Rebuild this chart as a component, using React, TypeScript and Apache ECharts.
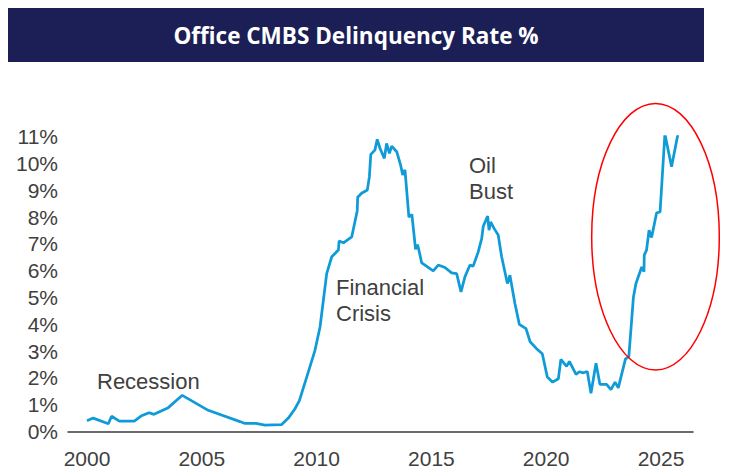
import React, { useEffect, useRef } from "react";
import * as echarts from "echarts";

const years = [
  2000.0, 2000.27, 2000.93, 2001.07, 2001.41, 2002.06, 2002.38, 2002.7, 2002.92, 2003.54,
  2004.15, 2005.28, 2006.66, 2006.88, 2007.36, 2007.75, 2008.48, 2008.77, 2009.06, 2009.25,
  2009.57, 2009.93, 2010.15, 2010.44, 2010.66, 2010.95, 2010.98, 2011.17, 2011.53, 2011.77,
  2011.79, 2011.96, 2012.21, 2012.3, 2012.36, 2012.54, 2012.64, 2012.76, 2012.95, 2013.05,
  2013.17, 2013.27, 2013.49, 2013.66, 2013.75, 2013.85, 2014.02, 2014.15, 2014.31, 2014.4,
  2014.58, 2015.08, 2015.3, 2015.59, 2015.88, 2016.1, 2016.29, 2016.46, 2016.68, 2016.82,
  2017.04, 2017.19, 2017.26, 2017.45, 2017.51, 2017.58, 2017.73, 2017.91, 2018.06, 2018.31,
  2018.42, 2018.64, 2018.83, 2019.12, 2019.3, 2019.58, 2019.83, 2020.05, 2020.28, 2020.53,
  2020.64, 2020.89, 2021.01, 2021.3, 2021.44, 2021.62, 2021.79, 2021.95, 2022.17, 2022.34,
  2022.63, 2022.82, 2023.0, 2023.14, 2023.45, 2023.6, 2023.8, 2023.91, 2024.16, 2024.26,
  2024.27, 2024.37, 2024.48, 2024.59, 2024.81, 2024.96, 2025.17, 2025.46, 2025.75,
];

const rates = [
  0.4, 0.5, 0.29, 0.57, 0.39, 0.39, 0.59, 0.7, 0.64, 0.89,
  1.35, 0.79, 0.37, 0.3, 0.3, 0.24, 0.26, 0.5, 0.85, 1.15,
  2.03, 3.03, 3.9, 5.89, 6.52, 6.77, 7.11, 7.04, 7.26, 8.24,
  8.74, 8.89, 9.01, 9.51, 10.34, 10.5, 10.9, 10.57, 10.19, 10.75,
  10.38, 10.65, 10.44, 9.94, 9.57, 9.76, 8.0, 8.1, 6.8, 6.98,
  6.29, 5.99, 6.21, 6.12, 5.92, 5.89, 5.21, 5.77, 6.21, 6.17,
  6.7, 7.2, 7.66, 8.04, 7.51, 7.82, 7.58, 7.33, 6.52, 5.52,
  5.83, 4.77, 4.0, 3.84, 3.35, 3.09, 2.9, 2.03, 1.84, 1.97,
  2.69, 2.43, 2.62, 2.13, 2.23, 2.19, 2.24, 1.43, 2.55, 1.76,
  1.76, 1.56, 1.84, 1.63, 2.7, 2.8, 5.02, 5.52, 6.14, 5.96,
  6.58, 6.77, 7.51, 7.24, 8.16, 8.19, 11.1, 9.88, 11.15,
];

const xTickYears = [2000, 2005, 2010, 2015, 2020, 2025];

const title = "Office CMBS Delinquency Rate %";
const annotations = [
  { lines: ["Recession"], x: 97, y: 381 },
  { lines: ["Financial", "Crisis"], x: 336, y: 287 },
  { lines: ["Oil", "Bust"], x: 469, y: 165 },
];

export default function App() {
  const ref = useRef<HTMLDivElement>(null);

  useEffect(() => {
    if (!ref.current) return;
    const chart = echarts.init(ref.current, undefined, { renderer: "svg" });
    const textColor = "#404040";
    const font = "'Liberation Sans', Arial, sans-serif";

    const graphics: any[] = [
      {
        type: "rect",
        shape: { x: 8, y: 8, width: 696, height: 54 },
        style: { fill: "#1b1f56" },
        z: 10,
      },
      {
        type: "text",
        x: 356,
        y: 35,
        style: {
          text: title,
          fill: "#ffffff",
          font: "bold 22.5px 'Open Sans', sans-serif",
          textAlign: "center",
          textVerticalAlign: "middle",
        },
        z: 11,
      },
      {
        type: "ellipse",
        shape: { cx: 655.5, cy: 236.7, rx: 63.8, ry: 133.3 },
        style: { fill: "none", stroke: "#ff0000", lineWidth: 1.5 },
        z: 12,
      },
    ];
    annotations.forEach((a) => {
      a.lines.forEach((line, i) => {
        graphics.push({
          type: "text",
          x: a.x,
          y: a.y + i * 26.5,
          style: {
            text: line,
            fill: textColor,
            font: `22px ${font}`,
            textAlign: "left",
            textVerticalAlign: "middle",
          },
          z: 11,
        });
      });
    });

    chart.setOption({
      animation: false,
      backgroundColor: "#ffffff",
      grid: { left: 68, right: 37, top: 136.7, bottom: 38.5, containLabel: false },
      xAxis: {
        type: "value",
        min: 1999.173,
        max: 2026.394,
        axisLine: { show: true, lineStyle: { color: "#3a3a3a", width: 1.5 } },
        axisTick: { show: false },
        splitLine: { show: false },
        axisLabel: {
          customValues: xTickYears,
          formatter: (v: number) => String(Math.round(v)),
          color: textColor,
          fontSize: 21,
          fontFamily: font,
          margin: 16,
        },
      },
      yAxis: {
        type: "value",
        min: 0,
        max: 11,
        interval: 1,
        axisLine: { show: false },
        axisTick: { show: false },
        splitLine: { show: false },
        axisLabel: {
          formatter: (v: number) => `${v}%`,
          color: textColor,
          fontSize: 21,
          fontFamily: font,
          margin: 10,
        },
      },
      series: [
        {
          type: "line",
          data: years.map((y, i) => [y, rates[i]]),
          showSymbol: false,
          symbol: "none",
          lineStyle: { color: "#0f9bd7", width: 2.75 },
          z: 5,
        },
      ],
      graphic: graphics,
    });

    return () => chart.dispose();
  }, []);

  return (
    <div
      ref={ref}
      style={{ position: "fixed", left: 0, top: 0, width: 730, height: 470, background: "#fff" }}
    />
  );
}
